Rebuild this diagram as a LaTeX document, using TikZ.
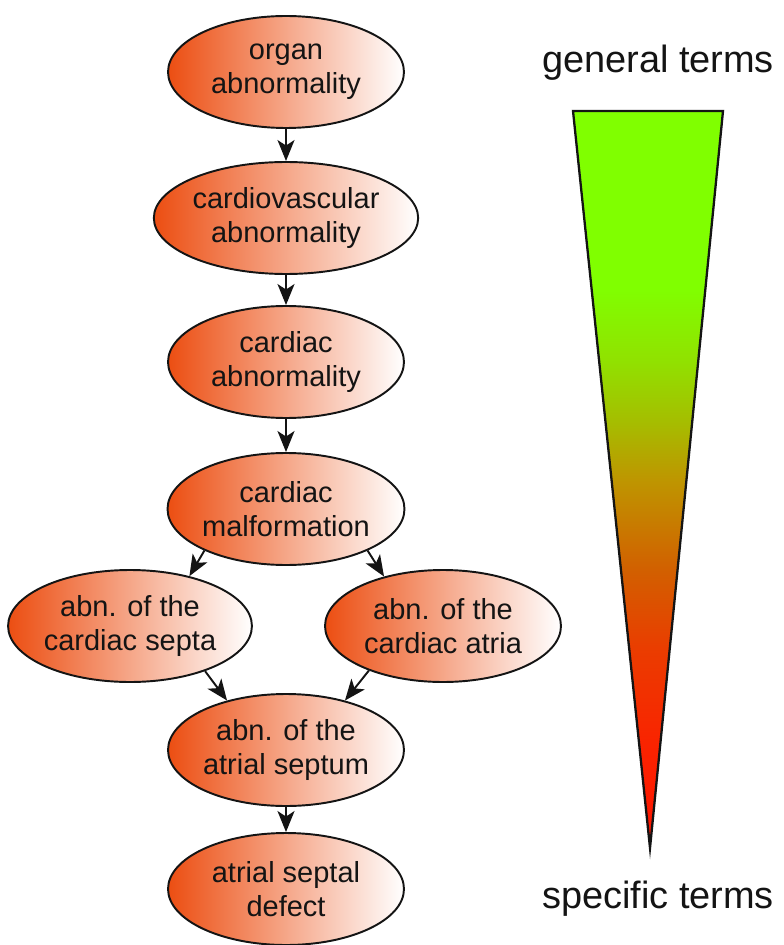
\documentclass[tikz,border=0pt]{standalone}
\usepackage{fontspec}
\setmainfont{Liberation Sans}
\usetikzlibrary{arrows.meta,shapes.geometric}
\definecolor{hpoedge}{RGB}{20,20,20}
\definecolor{hpoorange}{RGB}{236,78,18}
\pgfdeclareverticalshading{specshade}{100bp}{%
  rgb(0bp)=(1,0.078,0); rgb(25bp)=(1,0.078,0); rgb(32bp)=(0.98,0.137,0);
  rgb(38.4bp)=(0.92,0.235,0); rgb(43.8bp)=(0.824,0.373,0);
  rgb(50bp)=(0.745,0.588,0); rgb(54bp)=(0.647,0.745,0);
  rgb(58bp)=(0.569,0.882,0); rgb(63bp)=(0.502,1,0);
  rgb(75bp)=(0.502,1,0); rgb(100bp)=(0.502,1,0)}
\tikzset{
  term/.style={
    ellipse, draw=hpoedge, line width=1.1pt,
    left color=hpoorange, right color=white,
    minimum width=4.72cm, minimum height=2.24cm, inner sep=0pt,
    align=center, font=\fontsize{16.5}{19.4}\selectfont, text=black!92
  },
  isa/.style={-{Stealth[length=4.2mm,width=3.4mm,inset=1.1mm]}, draw=hpoedge, line width=1.1pt},
  wedge/.style={draw=hpoedge, line width=1.3pt, line join=miter, shading=specshade},
  endlbl/.style={font=\fontsize{21.6}{24}\selectfont, text=black!92, anchor=base}
}
\begin{document}
\begin{tikzpicture}[x=0.02cm, y=-0.02cm]
  \useasboundingbox (0,0) rectangle (783,945);
  % ontology path
  \node[term] (org) at (286,72) {organ\\abnormality};
  \node[term] (cvs) at (286,218) {cardiovascular\\abnormality};
  \node[term] (car) at (286,362) {cardiac\\abnormality};
  \node[term] (mal) at (286,509) {cardiac\\malformation};
  \node[term] (sep) at (130,626) {abn. of the\\cardiac septa};
  \node[term] (atr) at (443,626) {abn. of the\\cardiac atria};
  \node[term] (ase) at (286,750) {abn. of the\\atrial septum};
  \node[term] (asd) at (286,889) {atrial septal\\defect};
  \foreach \p/\q in {org/cvs,cvs/car,car/mal,ase/asd} \draw[isa] (\p) -- (\q);
  \draw[isa] (mal.207) -- (sep.40);
  \draw[isa] (mal.333) -- (atr.140);
  \draw[isa] (sep.329) -- (ase.140);
  \draw[isa] (atr.211) -- (ase.40);
  % specificity wedge
  \path[wedge] (573,111) -- (723,111) -- (650,848) -- cycle;
  \node[endlbl] (gen) at (658,73) {general terms};
  \node[endlbl] (spc) at (658,908) {specific terms};
\end{tikzpicture}
\end{document}
